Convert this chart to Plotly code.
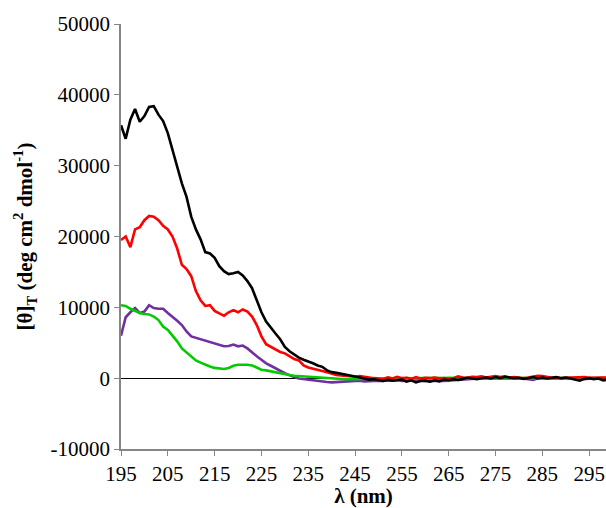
import plotly.graph_objects as go

wavelength = list(range(195, 301))

black = [35700, 33800, 36500, 38000, 36200, 37000, 38300, 38400, 37200, 36300,
         34600, 32200, 30200, 27500, 25600, 22800, 21000, 19600, 17800, 17600,
         17000, 15800, 15100, 14700, 14800, 15000, 14500, 13700, 12700, 10900,
         9300, 8000, 7100, 6300, 5500, 4400, 3800, 3300, 2900, 2600,
         2400, 2100, 1800, 1600, 1100, 850, 750, 650, 450, 380,
         250, 100, -100, -200, -150, -300, -400, -250, -350, -300,
         -200, -500, -300, -600, -400, -350, -500, -300, -450, -200,
         -300, -150, -250, -100, 50, -50, -150, 0, 100, -50,
         150, 0, 200, 100, 0, 50, -100, 0, 150, -50,
         100, -50, 50, 150, 0, 100, -50, -200, -350, -100,
         0, -150, -50, -300, -250, -100]

red = [19500, 20000, 18500, 21000, 21300, 22300, 22900, 22800, 22300, 21500,
       21000, 20000, 18300, 16000, 15400, 14400, 12300, 11000, 10200, 10300,
       9500, 9100, 8800, 9300, 9600, 9300, 9700, 9400, 8700, 7500,
       5900, 4800, 4400, 4100, 3700, 3500, 3100, 2700, 2500, 1800,
       1500, 1300, 1150, 1000, 850, 650, 450, 380, 300, 250,
       200, 300, 150, 100, 0, -50, -100, 100, -50, 200,
       0, 50, -100, 150, -50, 50, 0, 100, -50, 0,
       -100, 0, 250, 100, 50, 200, 150, 250, 100, 200,
       300, 150, 250, 100, 150, 50, 0, 100, 250, 350,
       300, 150, 50, 100, 0, 50, 100, 150, 100, 150,
       50, 100, 150, 100, 50, 100]

purple = [6000, 8600, 9300, 9900, 9200, 9400, 10300, 9900, 9800, 9800,
          9200, 8700, 8100, 7500, 6600, 5900, 5700, 5500, 5350, 5100,
          4900, 4700, 4500, 4550, 4750, 4500, 4600, 4200, 3600, 3100,
          2600, 2100, 1750, 1350, 1050, 700, 400, 150, -50, -150,
          -250, -300, -400, -450, -550, -600, -550, -450, -400, -450,
          -400, -350, -450, -400, -300, -350, -400, -300, -350, -250,
          -400, -350, -300, -250, -300, -400, -350, -300, -350, -400,
          -350, -300, -250, -150, -100, -50, -100, 0, -50, 0,
          50, 0, -50, 0, 50, 0, -50, -100, -250, -50,
          0, 50, 0, -50, 0, 50, 0, -50, 0, -100,
          -50, 0, 50, 0, -50, 0]

green = [10300, 10200, 9800, 9500, 9200, 9050, 9000, 8700, 8200, 7300,
         6800, 6000, 5200, 4200, 3600, 3000, 2500, 2200, 1900, 1650,
         1450, 1350, 1300, 1450, 1750, 1900, 1950, 1900, 1800, 1550,
         1200, 1100, 950, 850, 700, 550, 450, 350, 300, 200,
         150, 100, 50, 0, -50, -50, -100, -100, -150, -150,
         -150, -100, -150, -100, -50, -100, -50, 0, -50, -100,
         -50, 0, -50, -50, 0, -50, 0, 50, 0, 0,
         50, 0, 50, 0, 0, 50, 0, 50, 0, 0,
         50, 0, 0, 50, 0, 0, 50, 0, 0, 0,
         50, 0, 0, 50, 0, 0, 0, 50, 0, 0,
         0, 0, 50, 0, 0, 0]

x_ticks = [195, 205, 215, 225, 235, 245, 255, 265, 275, 285, 295]
x_tick_labels = [str(v) for v in x_ticks]
y_ticks = [-10000, 0, 10000, 20000, 30000, 40000, 50000]
y_tick_labels = ["-10000", "0", "10000", "20000", "30000", "40000", "50000"]

series = [
    ("purple", purple, "#7030A0"),
    ("green", green, "#00CC00"),
    ("red", red, "#FF0000"),
    ("black", black, "#000000"),
]

fig = go.Figure()
for name, vals, col in series:
    fig.add_trace(go.Scatter(x=wavelength, y=vals, mode="lines", name=name,
                             line=dict(color=col, width=2.6), showlegend=False))

font_family = "Liberation Serif, DejaVu Serif"
fig.update_layout(
    width=606, height=508,
    margin=dict(l=121, r=0, t=24, b=59),
    paper_bgcolor="white", plot_bgcolor="white",
    font=dict(family=font_family, size=21, color="black"),
)
fig.update_xaxes(
    range=[195, 298.6], tickmode="array", tickvals=x_ticks, ticktext=x_tick_labels,
    ticks="outside", ticklen=5, tickcolor="#868686", tickwidth=1,
    showline=True, linecolor="#868686", linewidth=1.5,
    showgrid=False, zeroline=False,
    title=dict(text="<b>λ (nm)</b>", standoff=0,
               font=dict(family=font_family, size=21)),
    tickfont=dict(family=font_family, size=21),
)
fig.update_yaxes(
    range=[-10000, 50000], tickmode="array", tickvals=y_ticks, ticktext=y_tick_labels,
    ticks="outside", ticklen=5, tickcolor="#868686", tickwidth=1,
    showline=True, linecolor="#868686", linewidth=1.5,
    showgrid=False, zeroline=True, zerolinecolor="#000000", zerolinewidth=1,
    title=dict(text="<b>[θ]<sub>T</sub> (deg cm<sup>2</sup> dmol<sup>-1</sup>)</b>",
               standoff=12, font=dict(family=font_family, size=21)),
    tickfont=dict(family=font_family, size=21),
)

fig.write_html("out.html")
